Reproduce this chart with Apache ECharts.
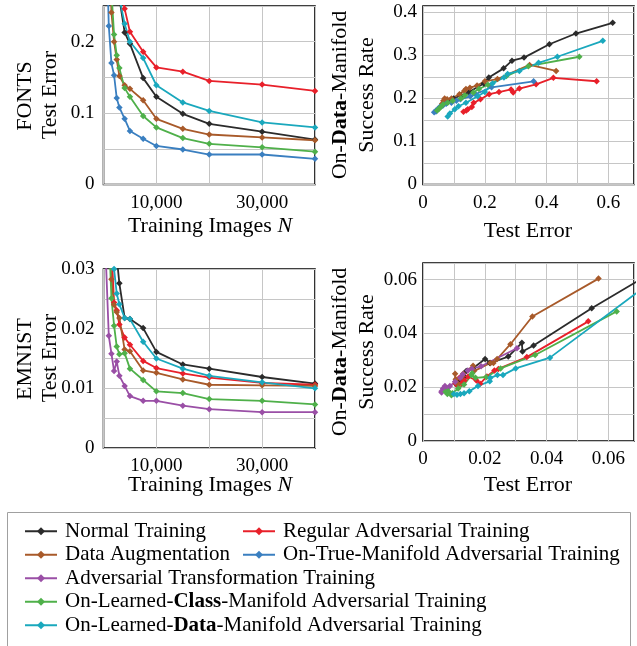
<!DOCTYPE html>
<html><head><meta charset="utf-8">
<script src="https://cdn.jsdelivr.net/npm/echarts@6/dist/echarts.min.js"></script>
<style>html,body{margin:0;padding:0;background:#fff}#c{width:637px;height:646px}</style>
</head><body><div id="c"></div>
<script>
// Training set sizes N
const trainingImages = [500, 1000, 1500, 2000, 2500, 3000, 4000, 5000, 7500, 10000, 15000, 20000, 30000, 40000];

// FONTS: test error per N
const fontsNormalErr = [0.614, 0.495, 0.409, 0.327, 0.288, 0.261, 0.213, 0.197, 0.149, 0.123, 0.099, 0.085, 0.074, 0.063];
const fontsRegularErr = [0.562, 0.422, 0.366, 0.312, 0.292, 0.285, 0.246, 0.214, 0.186, 0.164, 0.158, 0.145, 0.140, 0.131];
const fontsAugErr = [0.431, 0.345, 0.241, 0.200, 0.175, 0.152, 0.139, 0.134, 0.118, 0.092, 0.078, 0.070, 0.066, 0.062];
const fontsTrueErr = [0.358, 0.222, 0.170, 0.153, 0.121, 0.108, 0.092, 0.075, 0.064, 0.054, 0.049, 0.042, 0.042, 0.036];
const fontsClassErr = [0.506, 0.341, 0.270, 0.210, 0.181, 0.163, 0.135, 0.123, 0.096, 0.080, 0.065, 0.057, 0.052, 0.046];
const fontsDataErr = [0.582, 0.435, 0.374, 0.312, 0.274, 0.262, 0.225, 0.200, 0.177, 0.139, 0.115, 0.103, 0.087, 0.080];

// FONTS: on-data-manifold success rate per N
const fontsNormalSucc = [0.376, 0.351, 0.326, 0.295, 0.288, 0.270, 0.249, 0.235, 0.215, 0.207, 0.200, 0.195, 0.190, 0.185];
const fontsRegularSucc = [0.240, 0.248, 0.233, 0.223, 0.214, 0.221, 0.215, 0.210, 0.198, 0.190, 0.180, 0.175, 0.172, 0.169];
const fontsAugSucc = [0.264, 0.278, 0.245, 0.240, 0.230, 0.225, 0.222, 0.218, 0.210, 0.200, 0.198, 0.200, 0.195, 0.188];
const fontsTrueSucc = [0.240, 0.226, 0.210, 0.205, 0.198, 0.195, 0.190, 0.188, 0.183, 0.180, 0.176, 0.172, 0.170, 0.168];
const fontsClassSucc = [0.297, 0.275, 0.252, 0.232, 0.222, 0.214, 0.207, 0.200, 0.195, 0.190, 0.186, 0.180, 0.176, 0.172];
const fontsDataSucc = [0.334, 0.297, 0.283, 0.264, 0.257, 0.249, 0.235, 0.215, 0.205, 0.190, 0.182, 0.175, 0.165, 0.158];

// EMNIST: test error per N
const emNormalErr = [0.085, 0.0546, 0.0358, 0.0322, 0.0320, 0.0276, 0.0218, 0.0216, 0.0201, 0.0161, 0.0140, 0.0133, 0.0119, 0.0108];
const emRegularErr = [null, 0.0535, 0.0336, 0.0244, 0.0231, 0.0207, 0.0185, 0.0173, 0.0146, 0.0134, 0.0125, 0.0118, 0.0109, 0.0106];
const emAugErr = [0.0568, 0.0354, 0.0283, 0.0240, 0.0228, 0.0218, 0.0165, 0.0162, 0.0130, 0.0126, 0.0115, 0.0106, 0.0105, 0.0104];
const emTransfErr = [0.0304, 0.0188, 0.0158, 0.0129, 0.0145, 0.0121, 0.0104, 0.0087, 0.0079, 0.0079, 0.0071, 0.0065, 0.0060, 0.0060];
const emClassErr = [0.0627, 0.0363, 0.0251, 0.0205, 0.0170, 0.0157, 0.0159, 0.0133, 0.0114, 0.0095, 0.0092, 0.0082, 0.0079, 0.0073];
const emDataErr = [null, 0.075, 0.0411, 0.0300, 0.0259, 0.0241, 0.0218, 0.0216, 0.0178, 0.0150, 0.0133, 0.0121, 0.0110, 0.0100];

// EMNIST: on-data-manifold success rate per N
const emNormalSucc = [0.070, 0.0494, 0.0355, 0.0333, 0.0365, 0.0314, 0.0290, 0.0290, 0.0305, 0.0270, 0.0260, 0.0240, 0.0230, 0.0210];
const emRegularSucc = [null, 0.0445, 0.0312, 0.0268, 0.0262, 0.0240, 0.0213, 0.0225, 0.0240, 0.0225, 0.0215, 0.0235, 0.0210, 0.0215];
const emAugSucc = [0.0604, 0.0463, 0.0360, 0.0305, 0.0290, 0.0290, 0.0260, 0.0280, 0.0250, 0.0240, 0.0210, 0.0230, 0.0220, 0.0250];
const emTransfSucc = [0.0345, 0.0278, 0.0268, 0.0248, 0.0262, 0.0235, 0.0220, 0.0205, 0.0185, 0.0195, 0.0205, 0.0195, 0.0185, 0.0180];
const emClassSucc = [0.0482, 0.0320, 0.0270, 0.0238, 0.0235, 0.0245, 0.0252, 0.0210, 0.0195, 0.0178, 0.0170, 0.0185, 0.0175, 0.0183];
const emDataSucc = [null, 0.0601, 0.0310, 0.0270, 0.0245, 0.0245, 0.0235, 0.0222, 0.0205, 0.0185, 0.0178, 0.0175, 0.0172, 0.0175];

// Tick labels
const leftXTicks = [10000, 30000];
const fontsYTicks = [0, 0.1, 0.2];
const emYTicks = [0, 0.01, 0.02, 0.03];
const fontsRXTicks = [0, 0.2, 0.4, 0.6];
const fontsRYTicks = [0, 0.1, 0.2, 0.3, 0.4];
const emRTicks = [0, 0.02, 0.04, 0.06];

const M = {
  normal: 'Normal Training',
  regular: 'Regular Adversarial Training',
  aug: 'Data Augmentation',
  trueM: 'On-True-Manifold Adversarial Training',
  transf: 'Adversarial Transformation Training',
  cls: 'On-Learned-Class-Manifold Adversarial Training',
  data: 'On-Learned-Data-Manifold Adversarial Training'
};
const colors = {
  normal: '#2b2b2b', regular: '#e8202a', aug: '#a85a2a', trueM: '#3a7fc0',
  transf: '#9a4fa6', cls: '#4fb04a', data: '#1aa8bd'
};

const FONT = 'Liberation Serif';
const GRID_COLOR = '#c6c6c6';

function pairs(xs, ys) {
  const out = [];
  xs.forEach((x, i) => { if (x != null && ys[i] != null) out.push([x, ys[i]]); });
  return out;
}

const fonts = [
  ['normal', fontsNormalErr, fontsNormalSucc],
  ['regular', fontsRegularErr, fontsRegularSucc],
  ['aug', fontsAugErr, fontsAugSucc],
  ['trueM', fontsTrueErr, fontsTrueSucc],
  ['cls', fontsClassErr, fontsClassSucc],
  ['data', fontsDataErr, fontsDataSucc]
];
const emnist = [
  ['normal', emNormalErr, emNormalSucc],
  ['regular', emRegularErr, emRegularSucc],
  ['aug', emAugErr, emAugSucc],
  ['transf', emTransfErr, emTransfSucc],
  ['cls', emClassErr, emClassSucc],
  ['data', emDataErr, emDataSucc]
];

const series = [];
function addSeries(key, idx, data) {
  series.push({
    name: M[key], type: 'line', xAxisIndex: idx, yAxisIndex: idx, data: data, z: 3,
    symbol: 'diamond', symbolSize: 6.5, clip: true, animation: false,
    lineStyle: { color: colors[key], width: 1.8 },
    itemStyle: { color: colors[key] }
  });
}
fonts.forEach(([k, e, s]) => { addSeries(k, 0, pairs(trainingImages, e)); addSeries(k, 1, pairs(e, s)); });
emnist.forEach(([k, e, s]) => { addSeries(k, 2, pairs(trainingImages, e)); addSeries(k, 3, pairs(e, s)); });

const gridLine = { show: true, lineStyle: { color: GRID_COLOR, width: 1 } };
const lbl = (vals, fmt) => ({ customValues: vals, formatter: fmt, fontFamily: FONT, fontSize: 19, color: '#000', margin: 9 });
const plain = v => (v === 0 ? '0' : String(+v.toFixed(4)));
const commas = v => v.toLocaleString('en-US');

function valAxis(idx, min, max, interval, labelVals, fmt, extra) {
  return Object.assign({
    type: 'value', gridIndex: idx, min: min, max: max, interval: interval,
    axisLine: { show: false }, axisTick: { show: false },
    splitLine: gridLine, axisLabel: lbl(labelVals, fmt)
  }, extra || {});
}

const gridBase = { show: true, borderColor: '#000', borderWidth: 1.6 };

const txt = (text, x, y, rot) => ({
  type: 'text', x: x, y: y, rotation: rot || 0, silent: true,
  style: {
    text: text, fontFamily: FONT, fontSize: 22, fill: '#000', align: 'center', verticalAlign: 'middle',
    rich: {
      b: { fontFamily: FONT, fontSize: 22, fontWeight: 'bold', fill: '#000' },
      i: { fontFamily: FONT, fontSize: 22, fontStyle: 'italic', fill: '#000' }
    }
  }
});

const R = Math.PI / 2;

const legendCommon = {
  orient: 'vertical', itemWidth: 32, itemHeight: 10, itemGap: 0, padding: 0,
  textStyle: {
    fontFamily: FONT, fontSize: 21, color: '#000', lineHeight: 23.5, padding: [0, 0, 0, 3],
    rich: { b: { fontFamily: FONT, fontSize: 21, fontWeight: 'bold', color: '#000', lineHeight: 23.5 } }
  },
  formatter: name => name.replace('-Class-', '-{b|Class}-').replace('-Data-', '-{b|Data}-'),
  selectedMode: false
};

const option = {
  animation: false,
  grid: [
    Object.assign({ left: 103.5, top: 6, width: 211.5, height: 178.5 }, gridBase),
    Object.assign({ left: 423, top: 6, width: 211, height: 178.5 }, gridBase),
    Object.assign({ left: 103.5, top: 269, width: 211.5, height: 179 }, gridBase),
    Object.assign({ left: 423, top: 263, width: 211, height: 178 }, gridBase)
  ],
  xAxis: [
    valAxis(0, 0, 40000, 10000, leftXTicks, commas),
    valAxis(1, 0, 0.683, 0.1, fontsRXTicks, plain),
    valAxis(2, 0, 40000, 10000, leftXTicks, commas),
    valAxis(3, 0, 0.0683, 0.01, emRTicks, plain)
  ],
  yAxis: [
    valAxis(0, 0, 0.25, 0.05, fontsYTicks, plain),
    valAxis(1, 0, 0.415, 0.05, fontsRYTicks, plain, { axisLabel: Object.assign(lbl(fontsRYTicks, plain), { margin: 6 }) }),
    valAxis(2, 0, 0.03, 0.005, emYTicks, plain),
    valAxis(3, 0, 0.0662, 0.01, emRTicks, plain, { axisLabel: Object.assign(lbl(emRTicks, plain), { margin: 6 }) })
  ],
  legend: [
    Object.assign({ left: 24, top: 519.5, data: [M.normal, M.aug, M.transf, M.cls, M.data] }, legendCommon),
    Object.assign({ left: 242, top: 519.5, data: [M.regular, M.trueM] }, legendCommon)
  ],
  graphic: [
    txt('FONTS', 25, 96, R), txt('Test Error', 50, 95, R),
    txt('Training Images {i|N}', 210, 226),
    txt('On-{b|Data}-Manifold', 340, 95, R), txt('Success Rate', 367, 95, R),
    txt('Test Error', 528, 231),
    txt('EMNIST', 25, 359, R), txt('Test Error', 50, 358, R),
    txt('Training Images {i|N}', 210, 485),
    txt('On-{b|Data}-Manifold', 340, 352, R), txt('Success Rate', 367, 352, R),
    txt('Test Error', 528, 485),
    { type: 'rect', silent: true, shape: { x: 7.5, y: 512.5, width: 623, height: 150 },
      style: { fill: 'none', stroke: '#a0a0a0', lineWidth: 1 } }
  ],
  series: series
};

const chart = echarts.init(document.getElementById('c'), null, { renderer: 'canvas' });
chart.setOption(option);
</script>
</body></html>
